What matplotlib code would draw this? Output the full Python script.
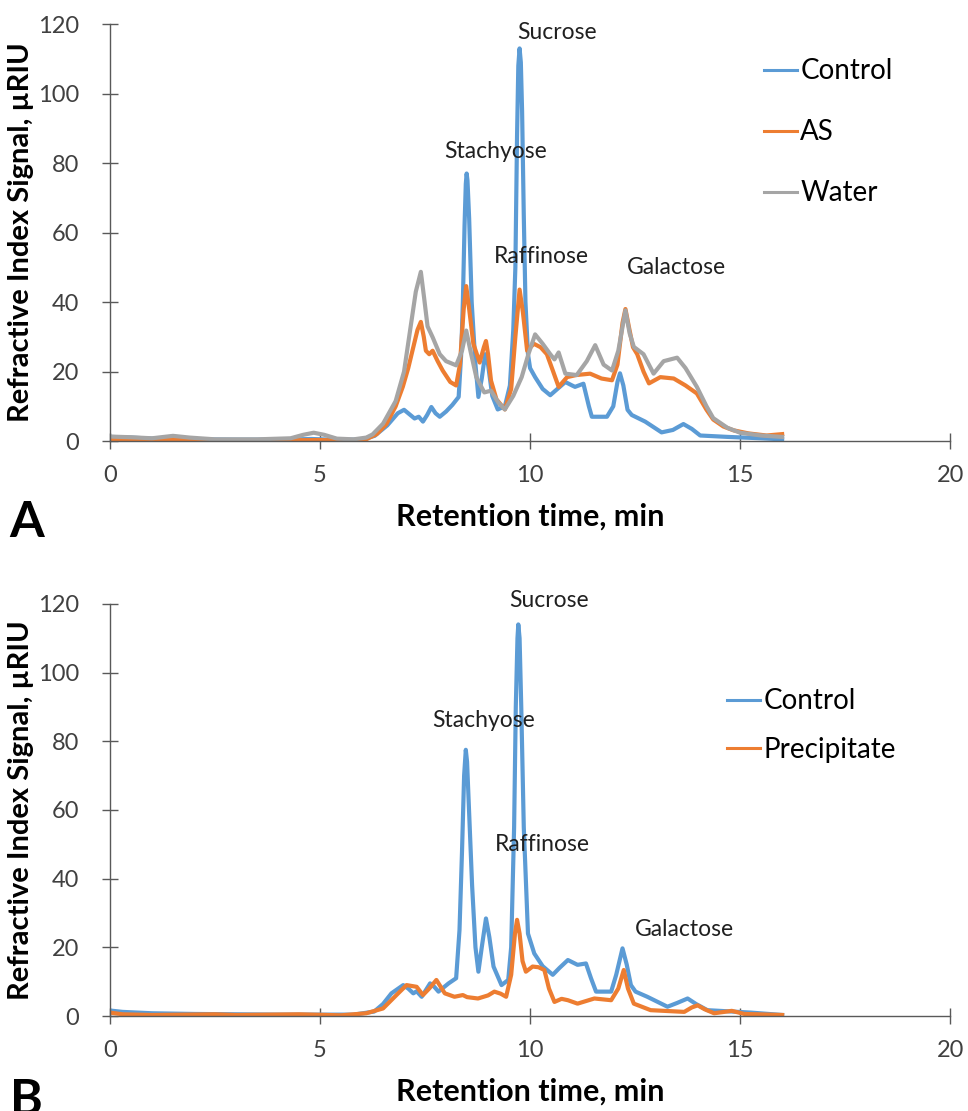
import matplotlib
matplotlib.use("Agg")
import matplotlib.pyplot as plt

plt.rcParams['font.family'] = ['Lato', 'DejaVu Sans']

# --- panel A: retention time (min) and signal (uRIU) ---
control_a_t = [0.0, 0.5, 1.0, 1.5, 2.0, 3.0, 4.0, 4.8, 5.5, 6.0, 6.3, 6.6, 6.85, 7.0, 7.15, 7.25, 7.35,
               7.45, 7.55, 7.65, 7.75, 7.85, 8.0, 8.15, 8.3, 8.36, 8.4, 8.44, 8.47, 8.49, 8.51, 8.55,
               8.61, 8.7, 8.77, 8.85, 8.93, 9.0, 9.1, 9.23, 9.4, 9.52, 9.6, 9.65, 9.69, 9.72, 9.75,
               9.78, 9.81, 9.85, 9.89, 9.95, 10.0, 10.12, 10.3, 10.48, 10.65, 10.84, 11.0, 11.07,
               11.27, 11.4, 11.47, 11.83, 11.98, 12.08, 12.14, 12.22, 12.32, 12.42, 12.74, 13.13,
               13.4, 13.65, 13.85, 14.05, 14.7, 15.5, 16.0]
control_a_y = [1.2, 1.0, 0.7, 0.9, 0.5, 0.4, 0.4, 0.6, 0.3, 0.5, 1.5, 4.5, 8, 9, 7.5, 6.5, 7,
               5.6, 7.5, 9.8, 8, 7, 8.5, 10.4, 12.7, 25, 40, 62, 74, 77, 75, 64,
               40, 22, 12.7, 18, 25, 22, 13, 9.1, 10, 16, 32, 50, 88, 108, 113,
               109, 95, 65, 40, 25, 21, 18.4, 15, 13.2, 15, 17, 16, 15.6,
               16.5, 10, 7, 7, 10, 17, 19.5, 16, 9, 7.5, 5.6, 2.5,
               3.2, 4.9, 3.5, 1.6, 1.2, 0.8, 0.5]

as_t = [0.0, 1.0, 1.5, 2.0, 3.0, 4.0, 5.0, 5.6, 6.1, 6.35, 6.58, 6.8, 6.97, 7.1, 7.2, 7.32, 7.4,
        7.47, 7.52, 7.6, 7.68, 7.8, 7.92, 8.1, 8.24, 8.33, 8.42, 8.48, 8.55, 8.65, 8.8, 8.9, 8.95,
        9.0, 9.07, 9.2, 9.4, 9.55, 9.65, 9.75, 9.83, 9.93, 10.09, 10.25, 10.4, 10.55, 10.68,
        10.88, 11.1, 11.43, 11.7, 11.95, 12.08, 12.2, 12.27, 12.35, 12.45, 12.55, 12.7, 12.83,
        13.1, 13.42, 13.7, 13.97, 14.2, 14.36, 14.6, 14.84, 15.2, 15.63, 16.0]
as_y = [0.3, 0.2, 0.6, 0.3, 0.2, 0.2, 0.3, 0.1, 0.5, 2, 4.9, 10, 15.6, 21, 26, 32, 34.3,
        30, 26, 25, 26, 23, 20.3, 17, 16, 22, 38, 44.6, 38, 28, 22.6, 27, 28.8,
        25, 17.4, 12, 9.1, 15, 30, 43.6, 37, 26, 28, 27, 25, 20, 15.6,
        18.4, 19, 19.4, 18, 17.5, 22, 34, 38, 33, 27, 25, 20, 16.6,
        18.4, 18, 16, 13.7, 9, 6.2, 4.2, 3.1, 2.2, 1.6, 2.0]

water_t = [0.0, 0.5, 1.0, 1.5, 1.9, 2.5, 3.5, 4.3, 4.6, 4.85, 5.1, 5.4, 5.8, 6.1, 6.25, 6.5, 6.8,
           7.0, 7.13, 7.28, 7.4, 7.48, 7.56, 7.68, 7.85, 8.0, 8.24, 8.38, 8.48, 8.58, 8.72, 8.91,
           9.07, 9.25, 9.4, 9.6, 9.8, 9.96, 10.12, 10.3, 10.48, 10.58, 10.68, 10.84, 11.11, 11.35,
           11.55, 11.75, 11.95, 12.1, 12.27, 12.37, 12.47, 12.7, 12.94, 13.18, 13.5, 13.7, 13.97,
           14.2, 14.36, 14.7, 15.0, 15.5, 16.0]
water_y = [1.3, 1.1, 0.8, 1.5, 1.0, 0.5, 0.5, 0.8, 1.8, 2.4, 1.8, 0.7, 0.5, 1.0, 1.9, 5, 11.5,
           20, 30.7, 43, 48.7, 41, 33, 29.9, 25, 23, 21.8, 26, 31.8, 26, 18.4, 14,
           14.5, 11, 9.1, 13, 18.4, 25, 30.7, 28, 25, 23.5, 25.5, 19.4, 19, 23,
           27.6, 22, 20.3, 26, 37.6, 31, 27.1, 25, 19.4, 23, 24, 21, 15.6,
           10, 6.6, 3.8, 2.4, 1.6, 1.2]

# --- panel B ---
control_b_t = [0.0, 0.3, 1.0, 2.0, 3.0, 4.0, 5.0, 5.8, 6.29, 6.5, 6.7, 6.98, 7.1, 7.22, 7.3, 7.42,
               7.62, 7.72, 7.82, 8.06, 8.24, 8.32, 8.38, 8.43, 8.47, 8.5, 8.54, 8.62, 8.7, 8.77,
               8.85, 8.95, 9.03, 9.13, 9.32, 9.48, 9.55, 9.62, 9.66, 9.7, 9.72, 9.75, 9.79, 9.85,
               9.95, 10.1, 10.3, 10.54, 10.7, 10.9, 11.13, 11.33, 11.45, 11.57, 11.93, 12.05, 12.2,
               12.3, 12.4, 12.51, 12.79, 13.27, 13.5, 13.75, 13.95, 14.22, 15.25, 16.0]
control_b_y = [1.6, 1.2, 0.8, 0.6, 0.5, 0.4, 0.4, 0.4, 1.3, 3.5, 6.6, 9, 8, 6.6, 7.2, 5.6,
               9.5, 8.5, 7.1, 9.5, 11, 25, 48, 70, 77.5, 74, 62, 38, 20, 12.9,
               20, 28.4, 23, 14.4, 9, 10.5, 20, 55, 90, 110, 114, 110, 90, 55,
               24, 18.2, 14.5, 12, 14, 16.3, 14.9, 15.3, 11, 7.1, 7.1, 12, 19.7,
               15, 9, 7.1, 5.6, 2.7, 3.8, 5.1, 3.5, 1.7, 1.0, 0.3]

precip_t = [0.0, 0.3, 1.0, 2.5, 3.0, 4.5, 5.5, 6.1, 6.5, 6.86, 7.06, 7.3, 7.45, 7.6, 7.77, 7.97,
            8.2, 8.4, 8.5, 8.76, 9.0, 9.15, 9.3, 9.43, 9.55, 9.64, 9.69, 9.75, 9.82, 9.9, 10.06,
            10.2, 10.34, 10.45, 10.58, 10.75, 10.9, 11.13, 11.53, 11.93, 12.1, 12.23, 12.33,
            12.47, 12.87, 13.67, 13.85, 13.99, 14.15, 14.38, 14.8, 15.1, 16.0]
precip_y = [1.0, 0.5, 0.3, 0.5, 0.3, 0.5, 0.2, 0.8, 2.2, 6.6, 9, 8.5, 6.1, 8, 10.5, 6.6,
            5.6, 6.1, 5.5, 5.1, 6, 7.1, 6.5, 5.6, 12, 24, 28, 24, 16, 12.9, 14.4,
            14.2, 13.4, 8, 4.1, 5, 4.6, 3.6, 5.1, 4.6, 8, 13.4, 8,
            3.6, 1.7, 1.2, 2.5, 3.1, 2, 0.8, 1.5, 0.6, 0.3]

peak_names = ['Sucrose', 'Stachyose', 'Raffinose', 'Galactose']
label_pos_a = [(10.64, 117.7), (9.19, 83.2), (10.26, 53), (13.49, 50)]
label_pos_b = [(10.45, 120.9), (8.9, 85.9), (10.3, 49.8), (13.67, 25.3)]

BLUE = '#5B9BD5'
ORANGE = '#ED7D31'
GRAY = '#A5A5A5'

fig = plt.figure(figsize=(9.68, 11.11), dpi=100)
ax_a = fig.add_axes([0.1136, 0.603, 0.868, 0.3753])
ax_b = fig.add_axes([0.1136, 0.0855, 0.868, 0.371])


def style_axes(ax):
    ax.set_xlim(0, 20)
    ax.set_ylim(0, 120)
    ax.set_xticks([0, 5, 10, 15, 20])
    ax.set_yticks(range(0, 121, 20))
    for s in ['top', 'right']:
        ax.spines[s].set_visible(False)
    for s in ['left', 'bottom']:
        ax.spines[s].set_color('#595959')
        ax.spines[s].set_linewidth(1.0)
    ax.tick_params(direction='inout', length=12, width=1.0, color='#595959',
                   labelsize=17, labelcolor='#404040')
    ax.tick_params(axis='x', pad=11)
    ax.tick_params(axis='y', pad=16)
    ax.set_xlabel('Retention time, min', fontsize=22, fontweight='bold', labelpad=12)
    ax.set_ylabel('Refractive Index Signal, µRIU', fontsize=21, fontweight='bold')
    ax.yaxis.set_label_coords(-0.106, 0.5)
    ax.yaxis.label.set_verticalalignment('center')


lw = 3.0
ax_a.plot(control_a_t, control_a_y, color=BLUE, lw=lw, label='Control', solid_joinstyle='round')
ax_a.plot(as_t, as_y, color=ORANGE, lw=lw, label='AS', solid_joinstyle='round')
ax_a.plot(water_t, water_y, color=GRAY, lw=lw, label='Water', solid_joinstyle='round')
style_axes(ax_a)
for name, (x, y) in zip(peak_names, label_pos_a):
    ax_a.text(x, y, name, fontsize=16.5, ha='center', va='center', color='#202020')
leg = ax_a.legend(loc='upper left', bbox_to_anchor=(0.778, 0.918), frameon=False,
                  fontsize=20, handlelength=1.2, handletextpad=0.12, labelspacing=1.26,
                  borderpad=0, borderaxespad=0)
for ln in leg.get_lines():
    ln.set_linewidth(2.2)

ax_b.plot(control_b_t, control_b_y, color=BLUE, lw=lw, label='Control', solid_joinstyle='round')
ax_b.plot(precip_t, precip_y, color=ORANGE, lw=lw, label='Precipitate', solid_joinstyle='round')
style_axes(ax_b)
for name, (x, y) in zip(peak_names, label_pos_b):
    ax_b.text(x, y, name, fontsize=16.5, ha='center', va='center', color='#202020')
leg = ax_b.legend(loc='upper left', bbox_to_anchor=(0.734, 0.795), frameon=False,
                  fontsize=20, handlelength=1.2, handletextpad=0.12, labelspacing=0.8,
                  borderpad=0, borderaxespad=0)
for ln in leg.get_lines():
    ln.set_linewidth(2.2)

fig.text(0.01, 0.530, 'A', fontsize=36, fontweight='bold', va='center')
fig.text(0.01, 0.0297, 'B', fontsize=36, fontweight='bold', va='top')

fig.savefig('out.png', dpi=100)
